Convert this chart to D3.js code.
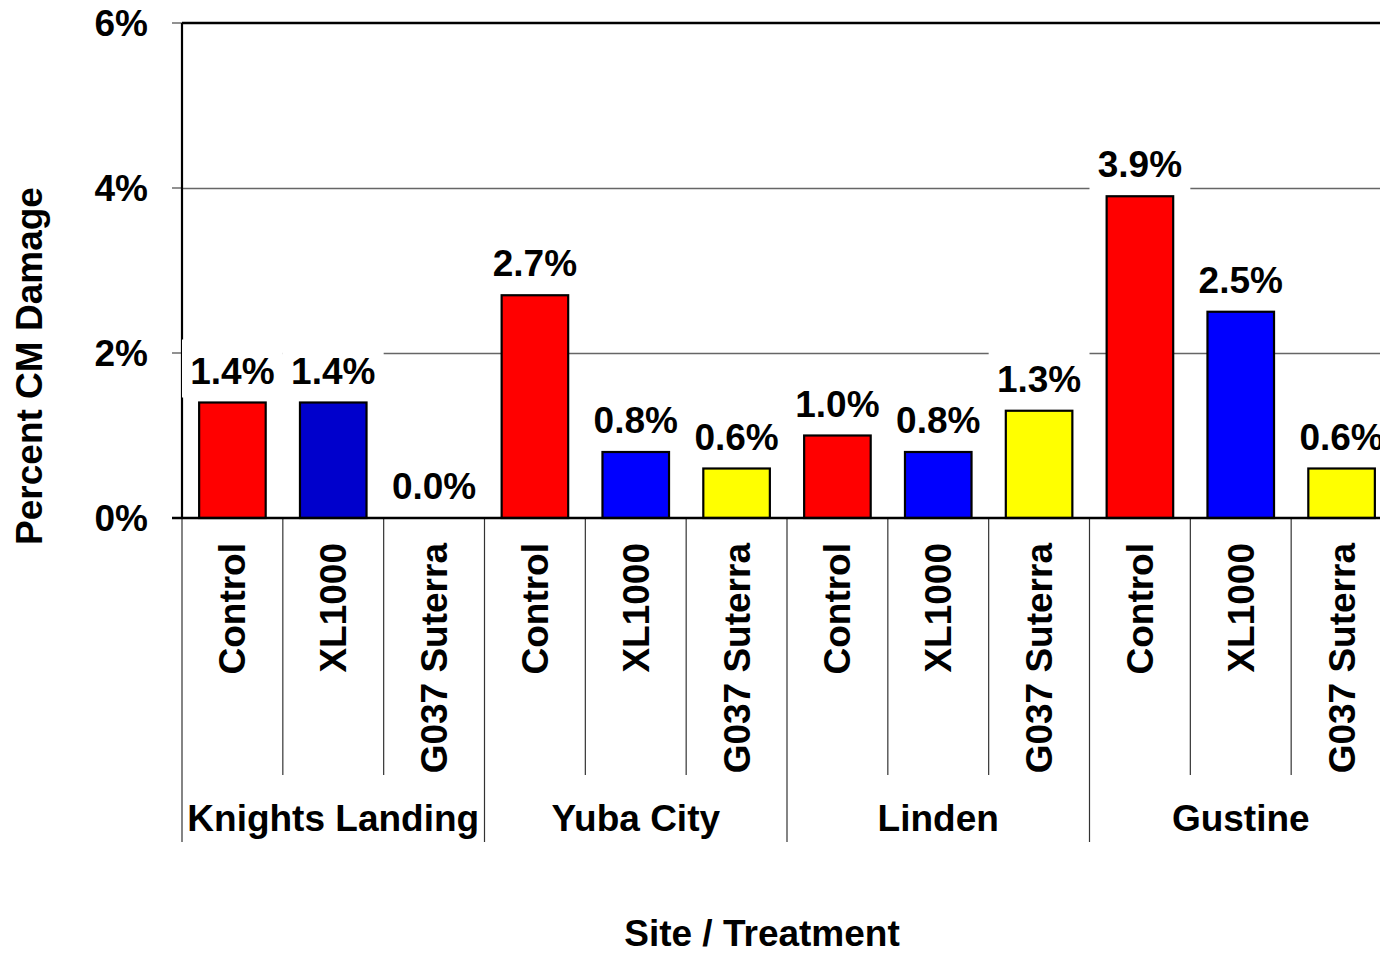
<!DOCTYPE html>
<meta charset="utf-8">
<head>
	<title>Percent CM Damage</title>
</head>
<style>
body{
	margin: 0;
	background: #fff;
}
svg{
	display: block;
}
text{
	font-family: "Liberation Sans", Arial, sans-serif;
	font-weight: bold;
	fill: #000;
}
</style>
<body>
<svg class="chart" width="1380" height="954"></svg>

<script src="https://cdnjs.cloudflare.com/ajax/libs/d3/7.8.5/d3.min.js"></script>
<script>

var sites = ['Knights Landing', 'Yuba City', 'Linden', 'Gustine'];
var treatments = ['Control', 'XL1000', 'G037 Suterra'];
var control = [1.4, 2.7, 1.0, 3.9];
var xl1000 = [1.4, 0.8, 0.8, 2.5];
var suterra = [0.0, 0.6, 1.3, 0.6];
var yTicks = [0, 2, 4, 6];

// fills, the first XL1000 bar is a darker blue in the original
var ctrlFill = ['#ff0000', '#ff0000', '#ff0000', '#ff0000'];
var xlFill = ['#0000cc', '#0000ff', '#0000ff', '#0000ff'];
var sutFill = ['#ffff00', '#ffff00', '#ffff00', '#ffff00'];

var rows = [];
sites.forEach(function(s, i){
	rows.push({site: s, treat: treatments[0], v: control[i], fill: ctrlFill[i]});
	rows.push({site: s, treat: treatments[1], v: xl1000[i], fill: xlFill[i]});
	rows.push({site: s, treat: treatments[2], v: suterra[i], fill: sutFill[i]});
});
rows.forEach(function(d, i){ d.key = i; });

var svg = d3.select('.chart');
var pLeft = 182, pRight = 1392, pTop = 23, pBase = 518;

var x = d3.scaleBand().domain(rows.map(function(d){ return d.key; }))
	.range([pLeft, pRight]).padding(0);
var xSite = d3.scaleBand().domain(sites).range([pLeft, pRight]).padding(0);
var y = d3.scaleLinear().domain([0, 6]).range([pBase, pTop]);
var fmt = d3.format('.1f');
var bw = x.bandwidth() * 0.66;

// gridlines
svg.append('g').selectAll('line')
	.data(yTicks.filter(function(t){ return t > 0 && t < 6; }))
	.enter().append('line')
	.attr('x1', pLeft).attr('x2', pRight)
	.attr('y1', function(d){ return y(d) + 0.5; })
	.attr('y2', function(d){ return y(d) + 0.5; })
	.attr('stroke', '#666').attr('stroke-width', 1.3);

// top border
svg.append('line')
	.attr('x1', pLeft).attr('x2', pRight)
	.attr('y1', y(6)).attr('y2', y(6))
	.attr('stroke', '#000').attr('stroke-width', 2.5);

// y ticks
svg.append('g').selectAll('line')
	.data(yTicks).enter().append('line')
	.attr('x1', pLeft - 10).attr('x2', pLeft)
	.attr('y1', function(d){ return y(d); })
	.attr('y2', function(d){ return y(d); })
	.attr('stroke', '#555').attr('stroke-width', 1.3);

svg.append('g').selectAll('text')
	.data(yTicks).enter().append('text')
	.attr('x', 148)
	.attr('y', function(d){ return y(d) + 13; })
	.attr('text-anchor', 'end')
	.style('font-size', '37px')
	.text(function(d){ return d + '%'; });

// left axis
svg.append('line')
	.attr('x1', pLeft).attr('x2', pLeft)
	.attr('y1', pTop).attr('y2', pBase)
	.attr('stroke', '#000').attr('stroke-width', 2.2);

// category separators below axis
var bounds = d3.range(rows.length + 1);
svg.append('g').selectAll('line')
	.data(bounds).enter().append('line')
	.attr('x1', function(d){ return pLeft + d * x.step(); })
	.attr('x2', function(d){ return pLeft + d * x.step(); })
	.attr('y1', pBase)
	.attr('y2', function(d){ return d % 3 === 0 ? 842 : 775; })
	.attr('stroke', '#333').attr('stroke-width', 1.2);

// white boxes behind the value labels
svg.append('g').selectAll('rect')
	.data(rows).enter().append('rect')
	.attr('x', function(d){ return x(d.key); })
	.attr('width', x.step())
	.attr('y', function(d){ return y(d.v) - 19 - 44; })
	.attr('height', 58)
	.attr('fill', '#fff');

// bars
svg.append('g').selectAll('rect')
	.data(rows.filter(function(d){ return d.v > 0; }))
	.enter().append('rect')
	.attr('x', function(d){ return x(d.key) + (x.bandwidth() - bw) / 2; })
	.attr('width', bw)
	.attr('y', function(d){ return y(d.v); })
	.attr('height', function(d){ return pBase - y(d.v); })
	.attr('fill', function(d){ return d.fill; })
	.attr('stroke', '#000').attr('stroke-width', 2.2);

// value labels
svg.append('g').selectAll('text')
	.data(rows).enter().append('text')
	.attr('x', function(d){ return x(d.key) + x.bandwidth() / 2; })
	.attr('y', function(d){ return y(d.v) - 19; })
	.attr('text-anchor', 'middle')
	.style('font-size', '37px')
	.text(function(d){ return fmt(d.v) + '%'; });

// baseline
svg.append('line')
	.attr('x1', pLeft - 10).attr('x2', pRight)
	.attr('y1', pBase).attr('y2', pBase)
	.attr('stroke', '#000').attr('stroke-width', 2.5);

// treatment labels
svg.append('g').selectAll('text')
	.data(rows).enter().append('text')
	.attr('transform', function(d){
		return 'translate(' + (x(d.key) + x.bandwidth() / 2 + 13) + ',543) rotate(-90)';
	})
	.attr('text-anchor', 'end')
	.style('font-size', '37px')
	.text(function(d){ return d.treat; });

// site labels
svg.append('g').selectAll('text')
	.data(sites).enter().append('text')
	.attr('x', function(d){ return xSite(d) + xSite.bandwidth() / 2; })
	.attr('y', 831)
	.attr('text-anchor', 'middle')
	.style('font-size', '37px')
	.text(function(d){ return d; });

// axis titles
svg.append('text')
	.attr('x', 762).attr('y', 946)
	.attr('text-anchor', 'middle')
	.style('font-size', '37px')
	.text('Site / Treatment');

svg.append('text')
	.attr('transform', 'translate(42,366) rotate(-90)')
	.attr('text-anchor', 'middle')
	.style('font-size', '37px')
	.text('Percent CM Damage');

</script>
</body>
</html>
